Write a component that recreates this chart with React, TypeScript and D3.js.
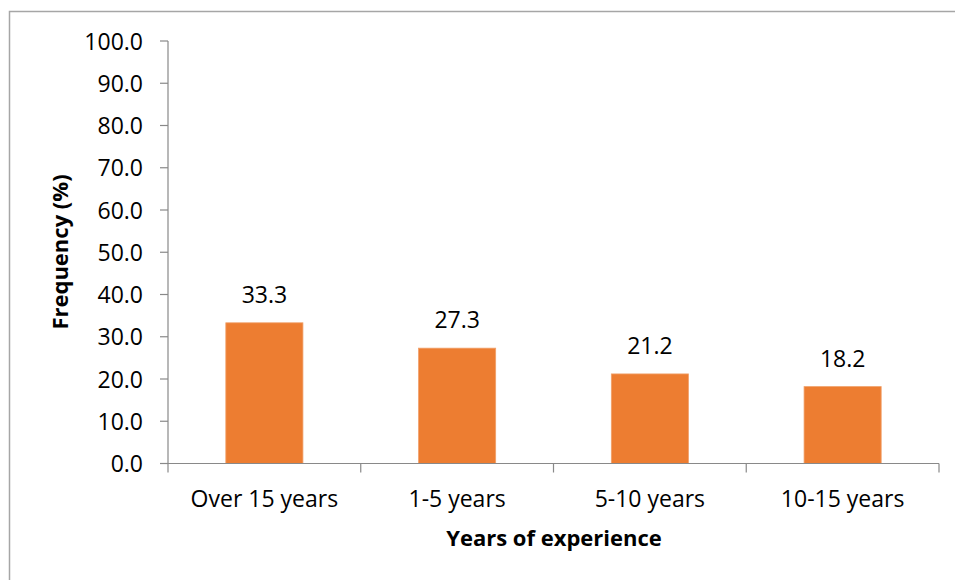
import React from "react";
import * as d3 from "d3";

const categories = ["Over 15 years", "1-5 years", "5-10 years", "10-15 years"];
const values = [33.3, 27.3, 21.2, 18.2];
const yTicks = [0, 10, 20, 30, 40, 50, 60, 70, 80, 90, 100];

const W = 955;
const H = 580;
const FONT = "'Open Sans', sans-serif";

export default function App() {
  const left = 168;
  const right = 939;
  const top = 41;
  const bottom = 463.5;

  const x = d3.scaleBand<string>().domain(categories).range([left, right]).paddingInner(0.6).paddingOuter(0.3);
  const xOuter = d3.scaleBand<string>().domain(categories).range([left, right]);
  const y = d3.scaleLinear().domain([0, 100]).range([bottom, top]);

  const axisColor = "#898989";

  return (
    <svg
      width={W}
      height={H}
      style={{ position: "absolute", left: 0, top: 0, background: "#fff" }}
      fontFamily={FONT}
    >
      <rect x={9.5} y={11.5} width={W + 20} height={H + 20} fill="#fff" stroke="#a6a6a6" strokeWidth={1.5} />

      {/* bars */}
      {categories.map((c, i) => (
        <rect
          key={c}
          x={x(c)!}
          y={y(values[i])}
          width={x.bandwidth()}
          height={bottom - y(values[i])}
          fill="#ED7D31"
          stroke="#F0A06A"
          strokeWidth={0.8}
        />
      ))}

      {/* y axis */}
      <line x1={left} x2={left} y1={top} y2={bottom} stroke={axisColor} strokeWidth={1.2} />
      {yTicks.map((t) => (
        <g key={t}>
          <line x1={left - 8} x2={left} y1={y(t)} y2={y(t)} stroke={axisColor} strokeWidth={1.2} />
          <text x={143} y={y(t) + 8.5} textAnchor="end" fontSize={23} fill="#000">
            {t.toFixed(1)}
          </text>
        </g>
      ))}

      {/* x axis */}
      <line x1={left} x2={right} y1={bottom} y2={bottom} stroke={axisColor} strokeWidth={1.2} />
      {[...categories.map((c) => xOuter(c)!), right].map((px, i) => (
        <line key={i} x1={px} x2={px} y1={bottom} y2={bottom + 9} stroke={axisColor} strokeWidth={1.2} />
      ))}
      {categories.map((c) => (
        <text key={c} x={xOuter(c)! + xOuter.bandwidth() / 2} y={507} textAnchor="middle" fontSize={23} fill="#000">
          {c}
        </text>
      ))}

      {/* data labels */}
      {categories.map((c, i) => (
        <text key={c} x={x(c)! + x.bandwidth() / 2} y={y(values[i]) - 20} textAnchor="middle" fontSize={23} fill="#000">
          {values[i].toFixed(1)}
        </text>
      ))}

      {/* axis titles */}
      <text x={554} y={546} textAnchor="middle" fontSize={22} fontWeight="bold" fill="#000">
        Years of experience
      </text>
      <text
        transform={`translate(68, 252) rotate(-90)`}
        textAnchor="middle"
        fontSize={22}
        fontWeight="bold"
        fill="#000"
      >
        Frequency (%)
      </text>
    </svg>
  );
}
